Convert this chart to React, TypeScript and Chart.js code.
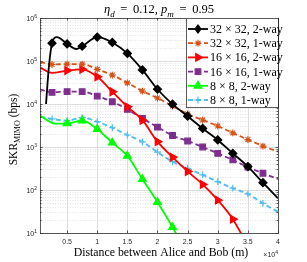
import React, { useEffect, useRef } from "react";
import { Chart, registerables } from "chart.js";

Chart.register(...registerables);

// ---- Data (distance in units of 10^4 m, SKR in bps) ----
const xMin = 0.05;
const xMax = 4;
const xTickValues = [0.5, 1, 1.5, 2, 2.5, 3, 3.5, 4];
const xTickLabels = ["0.5", "1", "1.5", "2", "2.5", "3", "3.5", "4"];
const yDecadeExps = [1, 2, 3, 4, 5, 6];

const seriesLabels = [
  "32 × 32, 2-way",
  "32 × 32, 1-way",
  "16 × 16, 2-way",
  "16 × 16, 1-way",
  "8 × 8, 2-way",
  "8 × 8, 1-way",
];

const dist32two = [0.15, 0.2, 0.25, 0.33, 0.5, 0.65, 0.75, 1.0, 1.25, 1.5, 1.75, 2.0, 2.25, 2.5, 2.75, 3.0, 3.25, 3.5, 3.75, 4.0];
const skr32two = [1.0e4, 8e4, 2.6e5, 3.6e5, 2.5e5, 1.9e5, 2.2e5, 3.6e5, 2.7e5, 1.5e5, 6.2e4, 2.2e4, 9.9e3, 5.2e3, 2.7e3, 1.46e3, 710, 350, 148, 64];

const dist32one = [0.05, 0.25, 0.5, 0.75, 1.0, 1.25, 1.5, 1.75, 2.0, 2.25, 2.5, 2.75, 3.0, 3.25, 3.5, 3.75, 4.0];
const skr32one = [9.5e4, 8.3e4, 8.5e4, 8.5e4, 6.4e4, 4.7e4, 3.1e4, 2.0e4, 1.38e4, 8.98e3, 5.85e3, 4.24e3, 3.08e3, 2.12e3, 1.49e3, 1.05e3, 778];

const dist16two = [0.05, 0.25, 0.5, 0.75, 1.0, 1.25, 1.5, 1.75, 2.0, 2.25, 2.5, 2.75, 3.0, 3.25, 3.5];
const skr16two = [7.0e4, 5.3e4, 6.0e4, 6.4e4, 4.3e4, 1.93e4, 8.6e3, 4.2e3, 1.33e3, 580, 270, 135, 58, 21, 5];

const dist16one = [0.05, 0.25, 0.5, 0.75, 1.0, 1.25, 1.5, 1.75, 2.0, 2.25, 2.5, 2.75, 3.0, 3.25, 3.5, 3.75, 4.0];
const skr16one = [2.2e4, 1.87e4, 1.94e4, 1.94e4, 1.53e4, 1.13e4, 7.5e3, 4.6e3, 2.9e3, 1.85e3, 1.38e3, 1.0e3, 710, 500, 340, 245, 180];

const dist8two = [0.05, 0.3, 0.5, 0.75, 1.0, 1.25, 1.5, 1.75, 2.0, 2.25, 2.5];
const skr8two = [5.4e3, 3.5e3, 3.55e3, 4.1e3, 2.6e3, 1.26e3, 620, 178, 52, 13.6, 3];

const dist8one = [0.05, 0.25, 0.5, 0.75, 1.0, 1.25, 1.5, 1.75, 2.0, 2.25, 2.5, 2.75, 3.0, 3.25, 3.5, 3.75, 4.0];
const skr8one = [5.1e3, 4.5e3, 4.1e3, 4.8e3, 3.9e3, 2.8e3, 1.9e3, 1.32e3, 760, 455, 320, 224, 156, 110, 81, 49, 31];

// ---- Styles ----
type Style = {
  color: string;
  dash: number[];
  marker: "diamond" | "star" | "triRight" | "square" | "triUp" | "plus";
  markerStart: number;
};

const styles: Style[] = [
  { color: "#000000", dash: [], marker: "diamond", markerStart: 0.25 },
  { color: "#D95319", dash: [5, 3], marker: "star", markerStart: 0.25 },
  { color: "#FF0000", dash: [], marker: "triRight", markerStart: 0.5 },
  { color: "#7E2F8E", dash: [5, 3], marker: "square", markerStart: 0.25 },
  { color: "#00FF00", dash: [], marker: "triUp", markerStart: 0.5 },
  { color: "#4DBEEE", dash: [5, 3], marker: "plus", markerStart: 0.25 },
];

const seriesDist = [dist32two, dist32one, dist16two, dist16one, dist8two, dist8one];
const seriesSkr = [skr32two, skr32one, skr16two, skr16one, skr8two, skr8one];

const SERIF = "'Liberation Serif', 'DejaVu Serif', serif";
const SANS = "'Liberation Sans', Arial, sans-serif";
const LINE_W = 1.8;

function chartPointStyle(m: Style["marker"]) {
  switch (m) {
    case "diamond": return { style: "rectRot", rot: 0, r: 4, filled: true };
    case "star": return { style: "star", rot: 0, r: 3.4, filled: false };
    case "triRight": return { style: "triangle", rot: 90, r: 4.5, filled: true };
    case "square": return { style: "rect", rot: 0, r: 4, filled: true };
    case "triUp": return { style: "triangle", rot: 0, r: 4.5, filled: true };
    default: return { style: "cross", rot: 0, r: 3.4, filled: false };
  }
}

function isMarker(x: number, start: number) {
  return x >= start - 1e-9 && x < 3.9 && Math.abs(x * 4 - Math.round(x * 4)) < 1e-6;
}

type Run = { t: string; it?: boolean; sub?: boolean; sup?: boolean };

function drawRuns(
  ctx: CanvasRenderingContext2D,
  runs: Run[],
  x: number,
  y: number,
  size: number,
  family: string,
  align: "left" | "center" | "right"
) {
  const fontFor = (r: Run) =>
    `${r.it ? "italic " : ""}${r.sub || r.sup ? Math.round(size * 0.72) : size}px ${family}`;
  const widths = runs.map((r) => {
    ctx.font = fontFor(r);
    return ctx.measureText(r.t).width;
  });
  const total = widths.reduce((a, b) => a + b, 0);
  let cx = align === "center" ? x - total / 2 : align === "right" ? x - total : x;
  ctx.textAlign = "left";
  ctx.textBaseline = "alphabetic";
  runs.forEach((r, i) => {
    ctx.font = fontFor(r);
    const dy = r.sub ? size * 0.28 : r.sup ? -size * 0.45 : 0;
    ctx.fillText(r.t, cx, y + dy);
    cx += widths[i];
  });
}

function drawMarker(ctx: CanvasRenderingContext2D, m: Style["marker"], color: string, x: number, y: number) {
  ctx.save();
  ctx.fillStyle = color;
  ctx.strokeStyle = color;
  ctx.lineWidth = 1.2;
  ctx.setLineDash([]);
  ctx.beginPath();
  if (m === "diamond") {
    const r = 4;
    ctx.moveTo(x, y - r); ctx.lineTo(x + r * 0.75, y); ctx.lineTo(x, y + r); ctx.lineTo(x - r * 0.75, y); ctx.closePath();
    ctx.fill(); ctx.stroke();
  } else if (m === "square") {
    const s = 2.8;
    ctx.rect(x - s, y - s, 2 * s, 2 * s);
    ctx.fill(); ctx.stroke();
  } else if (m === "triUp" || m === "triRight") {
    const r = 4.5;
    const pts = [0, 120, 240].map((a) => {
      const ang = ((a + (m === "triRight" ? 90 : 0)) * Math.PI) / 180;
      return [x + Math.sin(ang) * r, y - Math.cos(ang) * r];
    });
    ctx.moveTo(pts[0][0], pts[0][1]); ctx.lineTo(pts[1][0], pts[1][1]); ctx.lineTo(pts[2][0], pts[2][1]); ctx.closePath();
    ctx.fill(); ctx.stroke();
  } else if (m === "star") {
    const r = 3.4;
    ctx.moveTo(x - r, y); ctx.lineTo(x + r, y);
    ctx.moveTo(x, y - r); ctx.lineTo(x, y + r);
    const d = r * 0.7;
    ctx.moveTo(x - d, y - d); ctx.lineTo(x + d, y + d);
    ctx.moveTo(x - d, y + d); ctx.lineTo(x + d, y - d);
    ctx.stroke();
  } else {
    const r = 3.4;
    ctx.moveTo(x - r, y); ctx.lineTo(x + r, y);
    ctx.moveTo(x, y - r); ctx.lineTo(x, y + r);
    ctx.stroke();
  }
  ctx.restore();
}

const decor = {
  id: "decor",
  beforeDatasetsDraw(chart: any) {
    const { ctx, chartArea: a, scales } = chart;
    const xs = scales.x;
    const ys = scales.y;
    ctx.save();
    ctx.fillStyle = "#ffffff";
    ctx.fillRect(a.left, a.top, a.right - a.left, a.bottom - a.top);
    ctx.lineWidth = 1;
    ctx.strokeStyle = "#e4e4e4";
    ctx.setLineDash([1, 1.5]);
    for (let e = 1; e < 6; e++) {
      for (let m = 2; m <= 9; m++) {
        const y = Math.round(ys.getPixelForValue(m * Math.pow(10, e))) + 0.5;
        ctx.beginPath(); ctx.moveTo(a.left, y); ctx.lineTo(a.right, y); ctx.stroke();
      }
    }
    ctx.setLineDash([]);
    ctx.strokeStyle = "#dddddd";
    yDecadeExps.forEach((e) => {
      const y = Math.round(ys.getPixelForValue(Math.pow(10, e))) + 0.5;
      ctx.beginPath(); ctx.moveTo(a.left, y); ctx.lineTo(a.right, y); ctx.stroke();
    });
    xTickValues.forEach((v) => {
      const x = Math.round(xs.getPixelForValue(v)) + 0.5;
      ctx.beginPath(); ctx.moveTo(x, a.top); ctx.lineTo(x, a.bottom); ctx.stroke();
    });
    ctx.restore();
  },
  afterDatasetsDraw(chart: any) {
    const { ctx, chartArea: a, scales } = chart;
    const xs = scales.x;
    const ys = scales.y;
    ctx.save();
    const axisColor = "#262626";
    ctx.strokeStyle = "rgba(38,38,38,0.75)";
    ctx.lineWidth = 1;
    ctx.setLineDash([]);
    ctx.strokeRect(Math.round(a.left) + 0.5, Math.round(a.top) + 0.5, Math.round(a.right - a.left), Math.round(a.bottom - a.top));
    ctx.beginPath();
    xTickValues.forEach((v) => {
      const x = Math.round(xs.getPixelForValue(v)) + 0.5;
      ctx.moveTo(x, a.bottom); ctx.lineTo(x, a.bottom - 2.5);
      ctx.moveTo(x, a.top); ctx.lineTo(x, a.top + 2.5);
    });
    yDecadeExps.forEach((e) => {
      const y = Math.round(ys.getPixelForValue(Math.pow(10, e))) + 0.5;
      ctx.moveTo(a.left, y); ctx.lineTo(a.left + 2.5, y);
      ctx.moveTo(a.right, y); ctx.lineTo(a.right - 2.5, y);
    });
    for (let e = 1; e < 6; e++) {
      for (let m = 2; m <= 9; m++) {
        const y = Math.round(ys.getPixelForValue(m * Math.pow(10, e))) + 0.5;
        ctx.moveTo(a.left, y); ctx.lineTo(a.left + 1.5, y);
        ctx.moveTo(a.right, y); ctx.lineTo(a.right - 1.5, y);
      }
    }
    ctx.stroke();

    ctx.fillStyle = axisColor;
    ctx.font = `7px ${SANS}`;
    ctx.textAlign = "center";
    ctx.textBaseline = "alphabetic";
    xTickValues.forEach((v, i) => {
      ctx.fillText(xTickLabels[i], xs.getPixelForValue(v), a.bottom + 11);
    });
    yDecadeExps.forEach((e) => {
      const y = ys.getPixelForValue(Math.pow(10, e));
      drawRuns(ctx, [{ t: "10" }, { t: String(e), sup: true }], a.left - 3, y + 3, 7, SANS, "right");
    });
    drawRuns(ctx, [{ t: "×10" }, { t: "4", sup: true }], a.right, a.bottom + 24, 7, SANS, "right");

    ctx.fillStyle = "#000000";
    drawRuns(ctx, [{ t: "Distance between Alice and Bob (m)" }], (a.left + a.right) / 2 + 2, 256, 11.8, SERIF, "center");
    ctx.save();
    ctx.translate(17, (a.top + a.bottom) / 2 + 4);
    ctx.rotate(-Math.PI / 2);
    drawRuns(ctx, [{ t: "SKR" }, { t: "MIMO", sub: true }, { t: " (bps)" }], 0, 0, 11.5, SERIF, "center");
    ctx.restore();

    drawRuns(
      ctx,
      [
        { t: "η", it: true },
        { t: "d", it: true, sub: true },
        { t: " \u2009=\u2009 0.12, " },
        { t: "p", it: true },
        { t: "m", it: true, sub: true },
        { t: " \u2009=\u2009 0.95" },
      ],
      (a.left + a.right) / 2,
      13,
      12.5,
      SERIF,
      "center"
    );

    const lx0 = 186, lx1 = Math.round(a.right);
    const ly0 = Math.round(a.top), ly1 = 107;
    ctx.fillStyle = "#ffffff";
    ctx.fillRect(lx0, ly0, lx1 - lx0, ly1 - ly0);
    ctx.strokeStyle = "rgba(38,38,38,0.75)";
    ctx.lineWidth = 1;
    ctx.strokeRect(lx0 + 0.5, ly0 + 0.5, lx1 - lx0, ly1 - ly0);
    seriesLabels.forEach((lab, i) => {
      const st = styles[i];
      const y = 29 + i * 14.2;
      ctx.save();
      ctx.strokeStyle = st.color;
      ctx.lineWidth = LINE_W;
      ctx.setLineDash(st.dash);
      ctx.beginPath(); ctx.moveTo(188, y); ctx.lineTo(208, y); ctx.stroke();
      ctx.restore();
      drawMarker(ctx, st.marker, st.color, 198, y);
      ctx.fillStyle = "#000000";
      drawRuns(ctx, [{ t: lab }], 210, y + 4, 12, SERIF, "left");
    });
    ctx.restore();
  },
};

export default function App() {
  const ref = useRef<HTMLCanvasElement | null>(null);
  useEffect(() => {
    if (!ref.current) return;
    const datasets = seriesLabels.map((label, i) => {
      const st = styles[i];
      const ps = chartPointStyle(st.marker);
      return {
        label,
        data: seriesDist[i].map((x, j) => ({ x, y: seriesSkr[i][j] })),
        borderColor: st.color,
        backgroundColor: st.color,
        borderWidth: LINE_W,
        borderDash: st.dash,
        pointStyle: ps.style,
        rotation: ps.rot,
        pointRadius: (c: any) => (c.raw && isMarker(c.raw.x, st.markerStart) ? ps.r : 0),
        pointBorderColor: st.color,
        pointBackgroundColor: ps.filled ? st.color : "rgba(0,0,0,0)",
        pointBorderWidth: 1.2,
        cubicInterpolationMode: "monotone",
        fill: false,
        clip: 0,
      };
    });
    const chart = new Chart(ref.current, {
      type: "line",
      data: { datasets } as any,
      plugins: [decor],
      options: {
        animation: false,
        responsive: false,
        events: [],
        layout: { padding: { left: 40, right: 29, top: 18, bottom: 29 } },
        plugins: { legend: { display: false }, title: { display: false }, tooltip: { enabled: false } },
        scales: {
          x: { type: "linear", min: xMin, max: xMax, display: false },
          y: { type: "logarithmic", min: 10, max: 1e6, display: false },
        },
      } as any,
    });
    return () => chart.destroy();
  }, []);
  return (
    <canvas
      ref={ref}
      width={307}
      height={262}
      style={{ position: "absolute", left: 0, top: 0, width: 307, height: 262 }}
    />
  );
}
